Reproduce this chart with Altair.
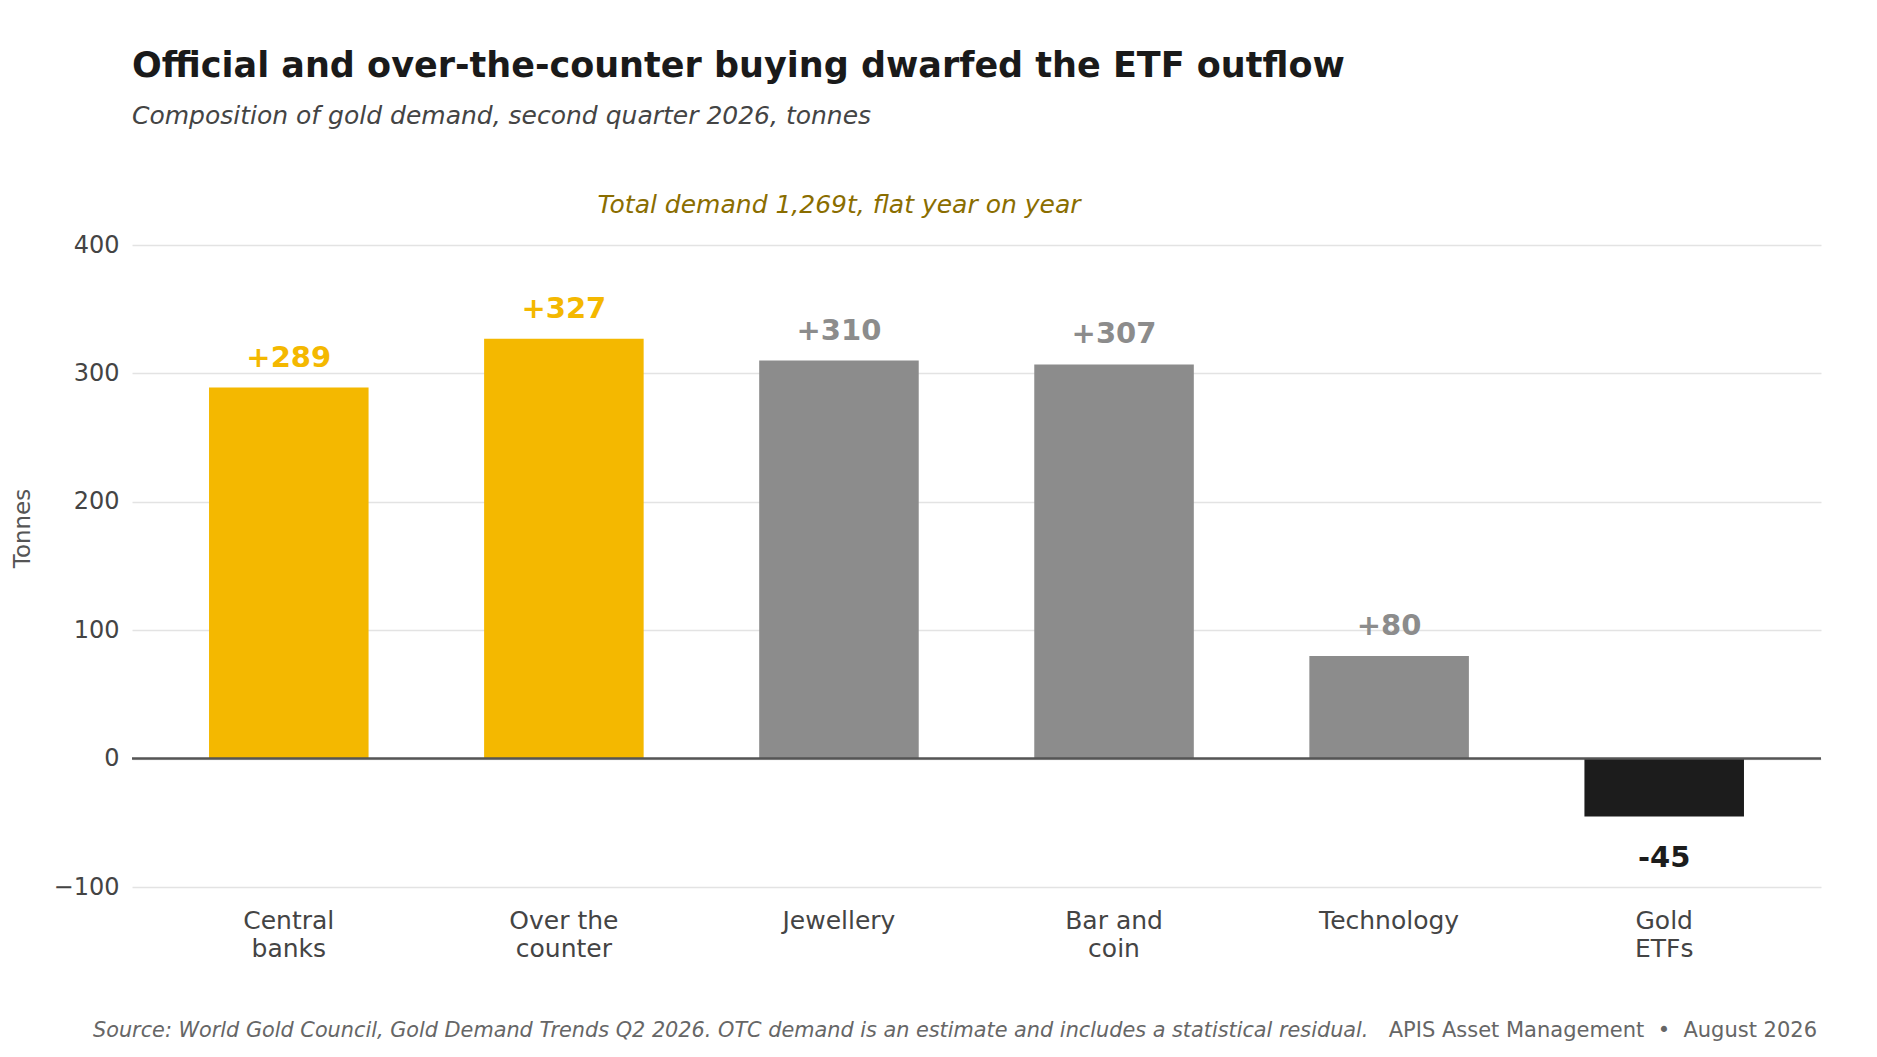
import pandas as pd
import altair as alt

# Gold demand components, Q2 2026 (tonnes)
categories = ["Central banks", "Over the counter", "Jewellery", "Bar and coin", "Technology", "Gold ETFs"]
label_lines = [["Central", "banks"], ["Over the", "counter"], ["Jewellery"], ["Bar and", "coin"], ["Technology"], ["Gold", "ETFs"]]
tonnes = [289, 327, 310, 307, 80, -45]
groups = ["Official/OTC", "Official/OTC", "Other", "Other", "Other", "ETF"]

group_names = ["Official/OTC", "Other", "ETF"]
group_colors = ["#F4B800", "#8C8C8C", "#1C1C1C"]

y_ticks = [-100, 0, 100, 200, 300, 400]

title = "Official and over-the-counter buying dwarfed the ETF outflow"
subtitle = "Composition of gold demand, second quarter 2026, tonnes"
note = "Total demand 1,269t, flat year on year"
source = "Source: World Gold Council, Gold Demand Trends Q2 2026. OTC demand is an estimate and includes a statistical residual."
credit = "APIS Asset Management\u00a0\u00a0\u2022\u00a0\u00a0August 2026"

W, H = 1689, 642

df = pd.DataFrame({
    "category": categories,
    "tonnes": tonnes,
    "group": groups,
})
df["label"] = [f"{v:+d}" for v in tonnes]

# multi-line x labels via nested ternary
label_expr = "datum.value"
for cat, lines in zip(categories, label_lines):
    arr = "[" + ",".join(f"'{s}'" for s in lines) + "]"
    label_expr = f"datum.value == '{cat}' ? {arr} : ({label_expr})"

x = alt.X("category:N", sort=categories, title=None,
          scale=alt.Scale(paddingInner=0.42, paddingOuter=0.28),
          axis=alt.Axis(labelExpr=label_expr, labelAngle=0, labelFontSize=25,
                        labelColor="#444444", labelLineHeight=28, labelPadding=21,
                        ticks=False, tickSize=0, domain=False, grid=False))
y_scale = alt.Scale(domain=[-100, 400], nice=False)
color = alt.Color("group:N", scale=alt.Scale(domain=group_names, range=group_colors), legend=None)

base = alt.Chart(df)

bars = base.mark_bar().encode(
    x=x,
    y=alt.Y("tonnes:Q", scale=y_scale, title="Tonnes",
            axis=alt.Axis(values=y_ticks, labelFontSize=24, labelColor="#444444",
                          labelPadding=13, domain=False, ticks=False,
                          gridColor="#e3e3e3", gridWidth=1.5,
                          titleFontSize=23, titleFontWeight="normal", titleColor="#555555",
                          titleX=-110, titleY=283, titleAlign="center", titleBaseline="middle")),
    color=color,
)

pos_labels = base.transform_filter(alt.datum.tonnes >= 0).mark_text(
    fontSize=29, fontWeight="bold", baseline="alphabetic", dy=-21
).encode(x=x, y=alt.Y("tonnes:Q", scale=y_scale), text="label:N", color=color)

neg_labels = base.transform_filter(alt.datum.tonnes < 0).mark_text(
    fontSize=29, fontWeight="bold", baseline="alphabetic", dy=51
).encode(x=x, y=alt.Y("tonnes:Q", scale=y_scale), text="label:N", color=color)

zero = alt.Chart(pd.DataFrame({"y": [0]})).mark_rule(color="#555555", strokeWidth=2.5).encode(
    y=alt.Y("y:Q", scale=y_scale)
)

note_layer = alt.Chart(pd.DataFrame({"category": ["Jewellery"], "top": [400], "t": [note]})).mark_text(
    fontSize=25, fontStyle="italic", color="#8a6d00", baseline="alphabetic", dy=-32
).encode(x=alt.X("category:N", sort=categories), y=alt.Y("top:Q", scale=y_scale), text="t:N")

source_layer = alt.Chart(pd.DataFrame({"t": [source]})).mark_text(
    fontSize=20.8, fontStyle="italic", color="#666666", align="left", baseline="alphabetic"
).encode(x=alt.value(-39), y=alt.value(792), text="t:N")

credit_layer = alt.Chart(pd.DataFrame({"t": [credit]})).mark_text(
    fontSize=21, color="#666666", align="right", baseline="alphabetic"
).encode(x=alt.value(W - 4), y=alt.value(792), text="t:N")

chart = alt.layer(
    bars, zero, pos_labels, neg_labels, note_layer, source_layer, credit_layer
).properties(
    width=W,
    height=H,
    autosize=alt.AutoSizeParams(type="none"),
    padding={"left": 124, "top": 237, "right": 48, "bottom": 162},
    title=alt.TitleParams(
        text=title, subtitle=subtitle, anchor="start", frame="group",
        fontSize=35, fontWeight="bold", color="#1a1a1a",
        subtitleFontSize=25, subtitleFontStyle="italic", subtitleColor="#444444",
        subtitlePadding=20, offset=64,
    ),
).configure(
    font="DejaVu Sans",
    background="white",
).configure_view(stroke=None)

chart.save("out.html", embed_options={"renderer": "svg", "actions": False})
